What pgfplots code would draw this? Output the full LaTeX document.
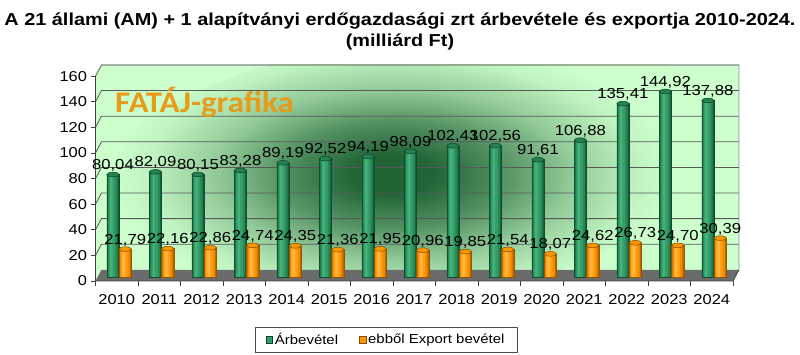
\documentclass[border=0pt]{standalone}
\usepackage{pgfplots}
\pgfplotsset{compat=1.18}
\usepackage{pgfplotstable}
\usepackage{fontspec}
\setmainfont{Liberation Sans}[FakeStretch=1.15]
\newfontfamily\wmfont{Carlito}[FakeStretch=1.1]
\definecolor{bgc}{RGB}{204,255,204}
\definecolor{blobc}{RGB}{34,100,54}
\definecolor{gedge}{RGB}{20,95,58}
\definecolor{gbase}{RGB}{40,135,85}
\definecolor{gmid}{RGB}{52,158,104}
\definecolor{glight}{RGB}{70,176,122}
\definecolor{gtop}{RGB}{36,128,80}
\definecolor{oedge}{RGB}{190,105,0}
\definecolor{obase}{RGB}{240,140,0}
\definecolor{omid}{RGB}{255,160,20}
\definecolor{olight}{RGB}{255,182,70}
\definecolor{otop}{RGB}{250,150,0}
\definecolor{wm}{RGB}{230,155,25}
\pgfdeclareradialshading{blob}{\pgfpoint{0bp}{0bp}}{color(0bp)=(blobc); color(3bp)=(blobc); color(8bp)=(blobc!72!bgc); color(13bp)=(blobc!35!bgc); color(18bp)=(blobc!8!bgc); color(21bp)=(bgc); color(50bp)=(bgc)}
\pgfplotstableread{
i arb exp
0 80.04 21.79
1 82.09 22.16
2 80.15 22.86
3 83.28 24.74
4 89.19 24.35
5 92.52 21.36
6 94.19 21.95
7 98.09 20.96
8 102.43 19.85
9 102.56 21.54
10 91.61 18.07
11 106.88 24.62
12 135.41 26.73
13 144.92 24.70
14 137.88 30.39
}\data
\begin{document}
\begin{tikzpicture}
\path[use as bounding box] (0pt,0pt) rectangle (800pt,355pt);
\node[font=\fontsize{17.3}{20}\selectfont\bfseries, anchor=base] at (400pt,329pt) {A 21 állami (AM) + 1 alapítványi erdőgazdasági zrt árbevétele és exportja 2010-2024.};
\node[font=\fontsize{17.3}{20}\selectfont\bfseries, anchor=base] at (400pt,308pt) {(milliárd Ft)};
\begin{axis}[
  at={(95.5pt,74pt)}, anchor=south west,
  scale only axis, width=637.5pt, height=216pt,
  xmin=-0.5, xmax=14.5, ymin=-3.125, ymax=165.6,
  clip=false,
  axis line style={draw=none},
  xtick={-0.5,0.5,1.5,2.5,3.5,4.5,5.5,6.5,7.5,8.5,9.5,10.5,11.5,12.5,13.5,14.5},
  x tick label as interval,
  xticklabels={2010,2011,2012,2013,2014,2015,2016,2017,2018,2019,2020,2021,2022,2023,2024},
  ytick={-3.125,16.875,36.875,56.875,76.875,96.875,116.875,136.875,156.875},
  yticklabels={0,20,40,60,80,100,120,140,160},
  tick align=outside, tick pos=left,
  major tick length=5pt,
  tick style={black!75, line width=0.6pt},
  tick label style={font=\fontsize{14.3}{16}\selectfont},
  xticklabel style={yshift=-5pt},
  /pgf/number format/assume math mode=true,
  legend style={at={(0.456,-0.271)}, anchor=center, legend columns=2, draw=black!70,
    font=\fontsize{13}{15}\selectfont, inner ysep=4pt, inner xsep=11pt,
    /tikz/every even column/.append style={column sep=19pt}},
  bar width=0.29, bar shift=0pt,
]
% left wall
\fill[bgc] (axis cs:-0.5,-3.125) -- (axis cs:-0.36,5.6) -- (axis cs:-0.36,165.6) -- (axis cs:-0.5,156.875) -- cycle;
% back wall
\fill[bgc] (axis cs:-0.36,5.6) rectangle (axis cs:14.64,165.6);
\begin{scope}
\clip (axis cs:-0.36,5.6) rectangle (axis cs:14.64,165.6);
\shade[shading=blob, rotate around={9:(axis cs:6.5,80)}] (axis cs:6.5,80) ellipse [x radius=330pt, y radius=135pt];
\end{scope}
\pgfplotsinvokeforeach{20,40,60,80,100,120,140,160}{
  \draw[black!65, line width=0.8pt] (axis cs:-0.5,#1-3.125) -- (axis cs:-0.36,#1+5.6) -- (axis cs:14.64,#1+5.6);
}
\draw[black!45, line width=0.8pt] (axis cs:14.64,5.6) -- (axis cs:14.64,165.6) -- (axis cs:-0.36,165.6) -- (axis cs:-0.5,156.875);
% floor
\fill[black!58] (axis cs:-0.5,-3.125) -- (axis cs:14.5,-3.125) -- (axis cs:14.64,5.6) -- (axis cs:-0.36,5.6) -- cycle;
\draw[black!75, line width=0.8pt] (axis cs:-0.5,156.875) -- (axis cs:-0.5,-3.125) -- (axis cs:14.5,-3.125) -- (axis cs:14.64,5.6);
% green cylinders
\addplot[ybar, draw=gedge!80!black, line width=0.5pt, fill=gedge,
  legend image code/.code={\draw[fill=gmid, draw=gedge!70!black] (0pt,-3.5pt) rectangle (6.5pt,3.5pt);}]
  table[x expr=\thisrow{i}-0.09, y=arb] {\data};
\addlegendentry{Árbevétel}
\addplot[ybar, draw=none, fill=gbase, bar width=0.23, forget plot]
  table[x expr=\thisrow{i}-0.095, y=arb] {\data};
\addplot[ybar, draw=none, fill=gmid, bar width=0.15, forget plot]
  table[x expr=\thisrow{i}-0.11, y=arb] {\data};
\addplot[ybar, draw=none, fill=glight, bar width=0.06, forget plot]
  table[x expr=\thisrow{i}-0.125, y=arb] {\data};
\addplot[only marks, mark=*, mark size=6.15pt, mark options={yscale=0.38, fill=gtop, draw=gedge!70!black, line width=0.5pt}, forget plot,
  nodes near coords={\pgfmathprintnumber[use comma,fixed,fixed zerofill,precision=2]{\pgfplotspointmeta}},
  every node near coord/.append style={font=\fontsize{14.5}{16}\selectfont, anchor=base, yshift=5pt, black}]
  table[x expr=\thisrow{i}-0.09, y=arb] {\data};
% orange cylinders
\addplot[ybar, draw=oedge!80!black, line width=0.5pt, fill=oedge,
  legend image code/.code={\draw[fill=otop, draw=oedge!70!black] (0pt,-3.5pt) rectangle (6.5pt,3.5pt);}]
  table[x expr=\thisrow{i}+0.2, y=exp] {\data};
\addlegendentry{ebből Export bevétel}
\addplot[ybar, draw=none, fill=obase, bar width=0.23, forget plot]
  table[x expr=\thisrow{i}+0.195, y=exp] {\data};
\addplot[ybar, draw=none, fill=omid, bar width=0.15, forget plot]
  table[x expr=\thisrow{i}+0.18, y=exp] {\data};
\addplot[ybar, draw=none, fill=olight, bar width=0.06, forget plot]
  table[x expr=\thisrow{i}+0.165, y=exp] {\data};
\addplot[only marks, mark=*, mark size=6.15pt, mark options={yscale=0.38, fill=otop, draw=oedge!70!black, line width=0.5pt}, forget plot,
  nodes near coords={\pgfmathprintnumber[use comma,fixed,fixed zerofill,precision=2]{\pgfplotspointmeta}},
  every node near coord/.append style={font=\fontsize{14.5}{16}\selectfont, anchor=base, yshift=5pt, black}]
  table[x expr=\thisrow{i}+0.2, y=exp] {\data};
\end{axis}
\node[anchor=base west, font=\wmfont\fontsize{30}{32}\selectfont\bfseries, text=wm, inner sep=0pt] at (115pt,242pt) {FATÁJ-grafika};
\end{tikzpicture}
\end{document}
